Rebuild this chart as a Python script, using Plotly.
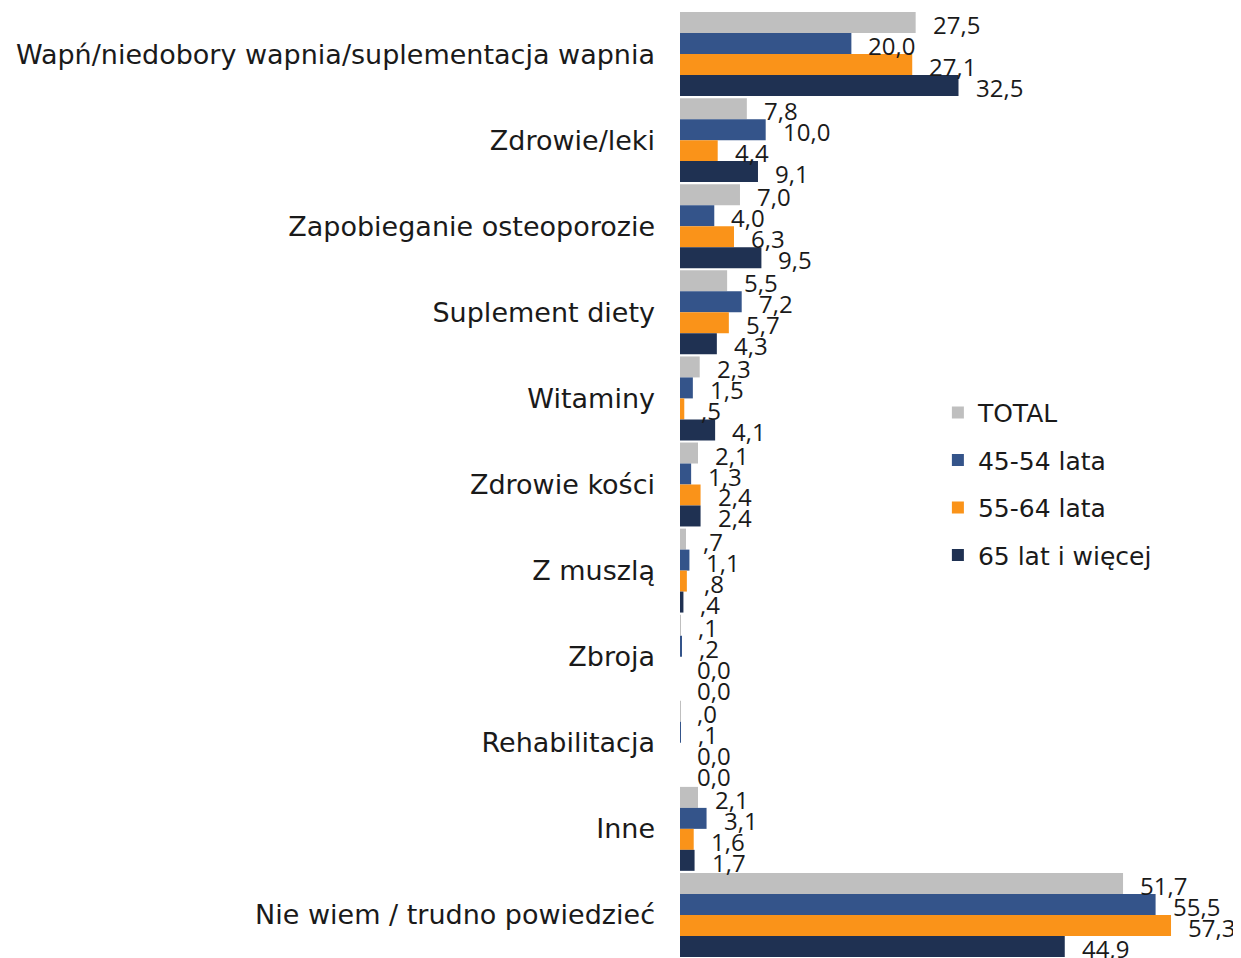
import plotly.graph_objects as go

categories = [
    "Wapń/niedobory wapnia/suplementacja wapnia",
    "Zdrowie/leki",
    "Zapobieganie osteoporozie",
    "Suplement diety",
    "Witaminy",
    "Zdrowie kości",
    "Z muszlą",
    "Zbroja",
    "Rehabilitacja",
    "Inne",
    "Nie wiem / trudno powiedzieć",
]

series_names = ["TOTAL", "45-54 lata", "55-64 lata", "65 lat i więcej"]
total = [27.5, 7.8, 7.0, 5.5, 2.3, 2.1, 0.7, 0.1, 0.04, 2.1, 51.7]
age_45_54 = [20.0, 10.0, 4.0, 7.2, 1.5, 1.3, 1.1, 0.2, 0.1, 3.1, 55.5]
age_55_64 = [27.1, 4.4, 6.3, 5.7, 0.5, 2.4, 0.8, 0.0, 0.0, 1.6, 57.3]
age_65_plus = [32.5, 9.1, 9.5, 4.3, 4.1, 2.4, 0.4, 0.0, 0.0, 1.7, 44.9]

colors = ["#BFBFBF", "#34548A", "#FA9319", "#1F3152"]


def fmt(v):
    s = f"{v:.1f}".replace(".", ",")
    if 0 < v < 1:
        s = s[1:]
    return s


series = [total, age_45_54, age_55_64, age_65_plus]

fig = go.Figure()
for i, (name, vals) in enumerate(zip(series_names, series)):
    fig.add_trace(
        go.Bar(
            y=categories,
            x=vals,
            name=name,
            orientation="h",
            marker=dict(color=colors[i], line=dict(width=0)),
            legendgroup=name,
            hoverinfo="x+y",
        )
    )

# value labels, shifted onto each bar of the group
pitch = 947 / len(categories)
bar_h = pitch * 0.975 / 4
annotations = []
for i, vals in enumerate(series):
    shift = (1.5 - i) * bar_h - 2
    for cat, v in zip(categories, vals):
        annotations.append(
            dict(
                x=v, y=cat, xref="x", yref="y", text=fmt(v), showarrow=False,
                xanchor="left", xshift=15, yshift=shift,
                font=dict(family="Open Sans", size=24, color="#1a1a1a"),
            )
        )

# page body adds 8px margin, so the figure is a bit smaller than the window
fig.update_layout(
    barmode="group",
    bargap=0.025,
    bargroupgap=0,
    width=1233,
    height=950,
    margin=dict(l=672, r=4, t=3, b=0, autoexpand=False),
    plot_bgcolor="white",
    paper_bgcolor="white",
    font=dict(family="DejaVu Sans", size=27, color="#1a1a1a"),
    annotations=annotations,
    legend=dict(
        x=0.463, y=0.6, xanchor="left", yanchor="top",
        traceorder="grouped", tracegroupgap=12,
        font=dict(family="DejaVu Sans", size=25, color="#1a1a1a"),
        itemwidth=30, bgcolor="rgba(0,0,0,0)",
    ),
    showlegend=True,
)
fig.update_xaxes(range=[0, 65], visible=False)
fig.update_yaxes(
    range=[10.5, -0.5], automargin=False, showline=False,
    ticks="", ticklabelstandoff=24, showgrid=False,
)

fig.write_html("out.html")
